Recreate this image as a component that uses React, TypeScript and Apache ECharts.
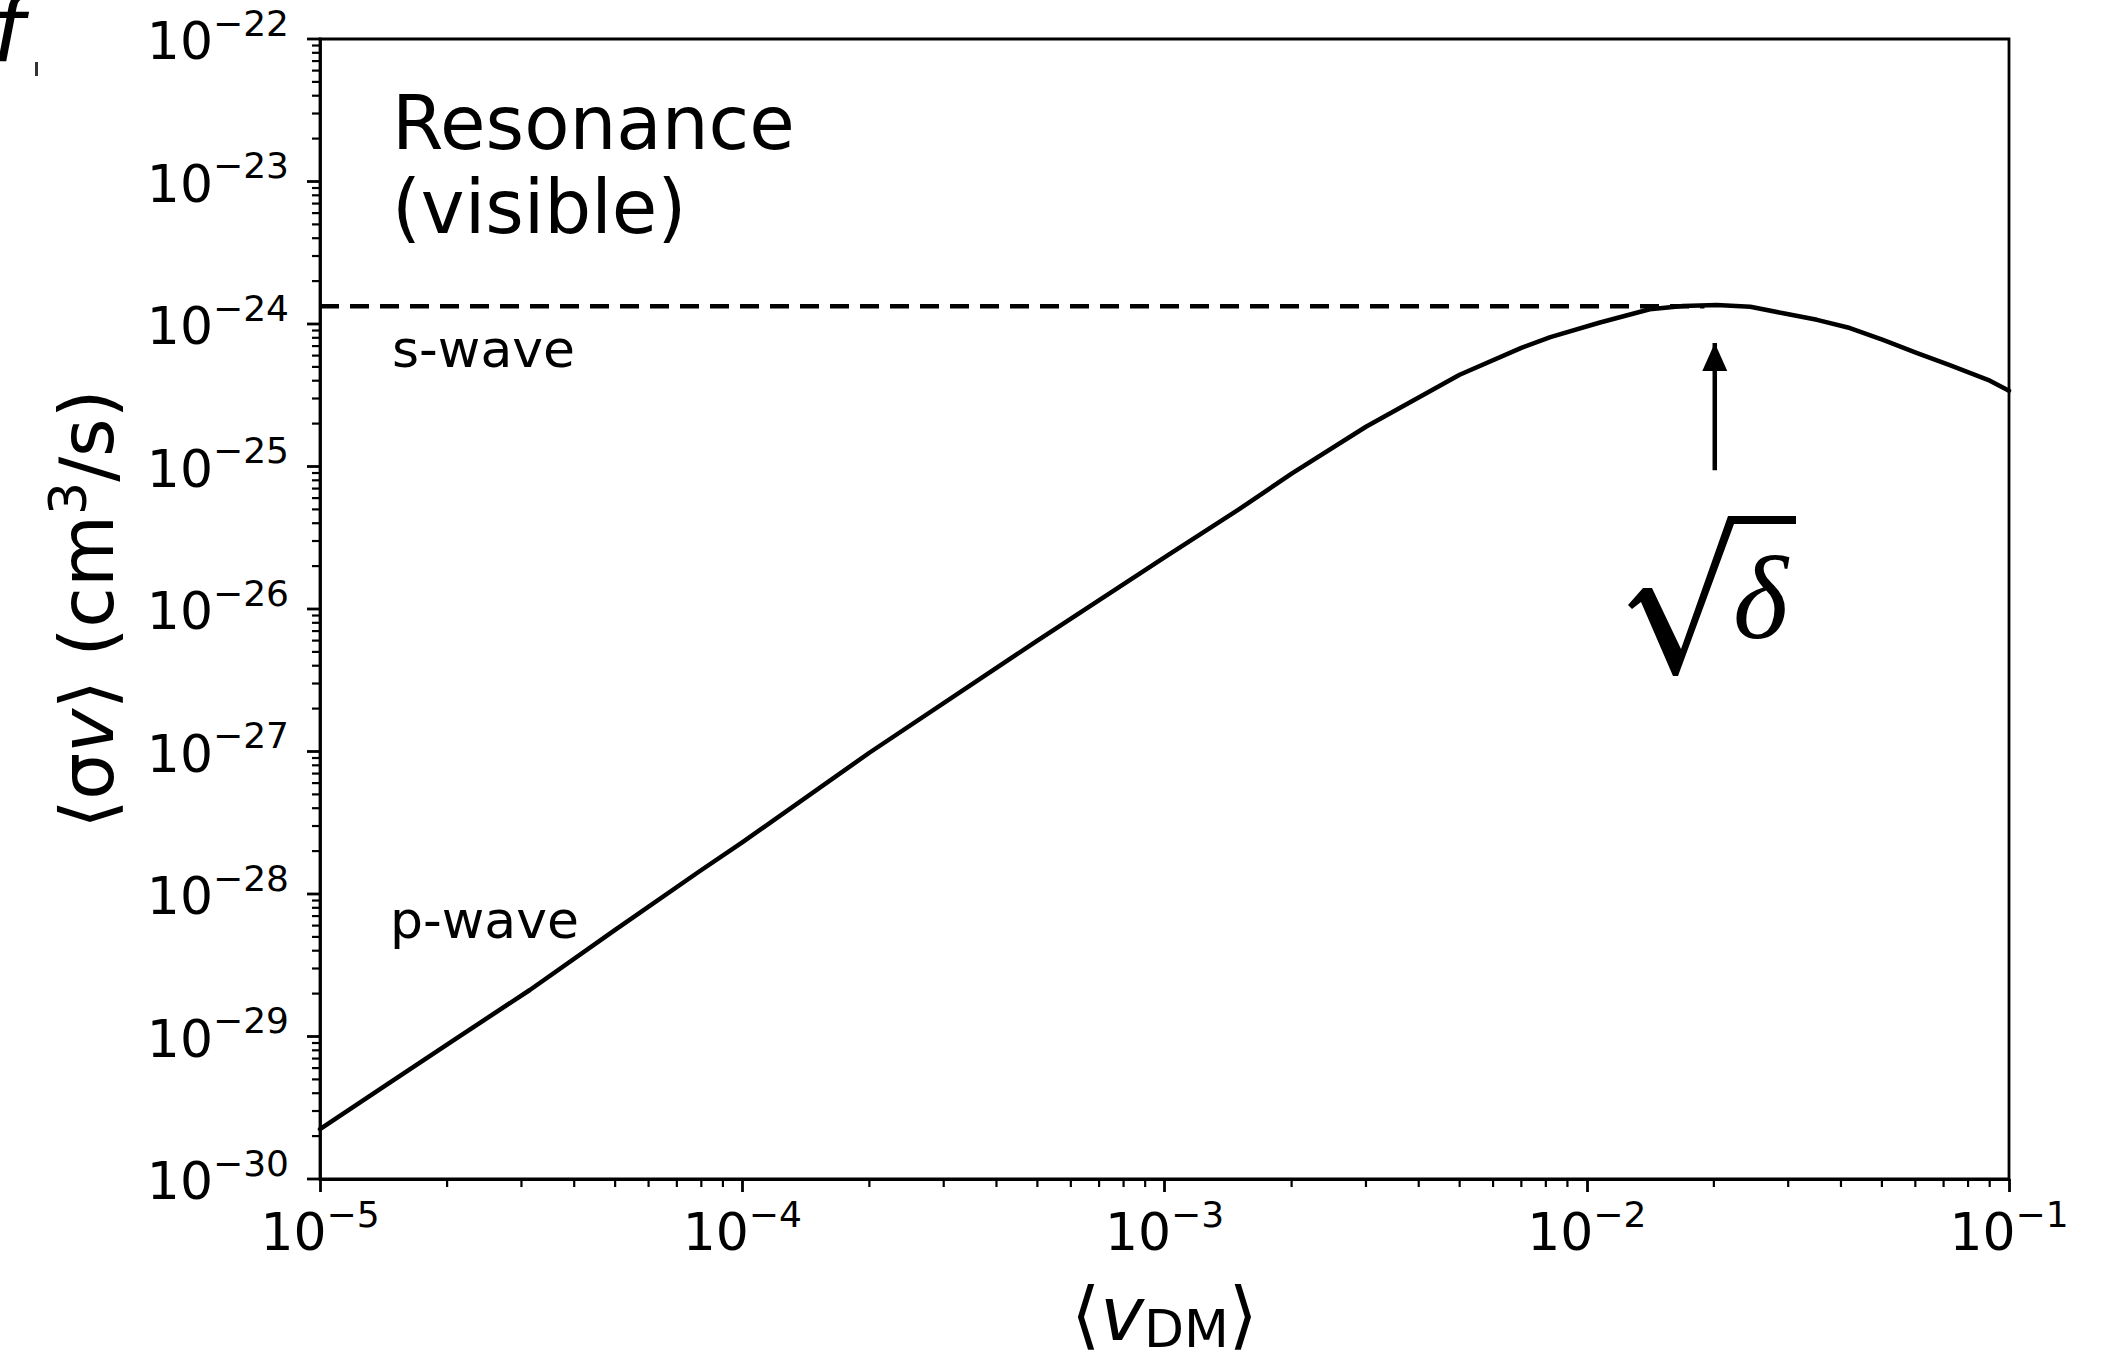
import React, { useEffect, useRef } from "react";
import * as echarts from "echarts";

// ---- Data ----
const vDM = [
  1e-5, 1.41e-5, 2.07e-5, 3.14e-5, 5e-5, 7.94e-5, 1e-4, 2e-4, 5e-4, 1e-3, 1.5e-3, 2e-3, 3e-3, 5e-3,
  7e-3, 8.2e-3, 1.07e-2, 1.41e-2, 1.69e-2, 2.03e-2, 2.44e-2, 2.92e-2, 3.51e-2, 4.2e-2, 5.03e-2,
  6.06e-2, 7.24e-2, 9.01e-2, 1e-1,
];
const sigmaV = [
  2.24e-30, 4.42e-30, 9.4e-30, 2.12e-29, 5.6e-29, 1.45e-28, 2.3e-28, 9.8e-28, 6.0e-27, 2.3e-26,
  5.0e-26, 8.9e-26, 1.9e-25, 4.4e-25, 6.8e-25, 8.1e-25, 1.02e-24, 1.27e-24, 1.34e-24, 1.36e-24,
  1.32e-24, 1.19e-24, 1.07e-24, 9.37e-25, 7.73e-25, 6.25e-25, 5.15e-25, 4.0e-25, 3.4e-25,
];
const sWaveX = [1e-5, 1.9e-2];
const sWaveY = [1.33e-24, 1.33e-24];
const arrowX = [2.01e-2, 2.01e-2];
const arrowY = [9.4e-26, 7.36e-25];

const xTickExponents = [-5, -4, -3, -2, -1];
const yTickExponents = [-30, -29, -28, -27, -26, -25, -24, -23, -22];
const minorMultipliers = [2, 3, 4, 5, 6, 7, 8, 9];

const X_MIN = 1e-5;
const X_MAX = 1e-1;
const Y_MIN = 1e-30;
const Y_MAX = 1e-22;

const FONT = "DejaVu Sans";
const INK = "#000";

const supText = (e: number) => "\u2212" + String(Math.abs(e));

const tickRich: any = {
  b: { fontSize: 52, fontFamily: FONT, color: INK, fill: INK, lineHeight: 56, verticalAlign: "bottom" },
  s: {
    fontSize: 36,
    fontFamily: FONT,
    color: INK,
    fill: INK,
    lineHeight: 40,
    verticalAlign: "bottom",
    padding: [0, 0, 26, 0],
  },
};

function makeLabel(exps: number[]) {
  return (v: number, idx: number) => {
    let e: number | undefined;
    if (typeof v === "number" && v > 0 && isFinite(v)) {
      const r = Math.round(Math.log10(v));
      e = exps.find((x) => x === r);
    }
    if (e === undefined) e = exps[idx];
    return e === undefined ? "" : `{b|10}{s|${supText(e)}}`;
  };
}

export default function App() {
  const ref = useRef<HTMLDivElement>(null);

  useEffect(() => {
    if (!ref.current) return;
    const chart = echarts.init(ref.current, undefined, { renderer: "svg" });

    const xMinor: number[] = [];
    xTickExponents.slice(0, -1).forEach((e) =>
      minorMultipliers.forEach((m) => xMinor.push(m * Math.pow(10, e)))
    );
    const yMinor: number[] = [];
    yTickExponents.slice(0, -1).forEach((e) =>
      minorMultipliers.forEach((m) => yMinor.push(m * Math.pow(10, e)))
    );

    const option: any = {
      animation: false,
      backgroundColor: "#fff",
      grid: {
        left: 320,
        top: 39,
        width: 1689,
        height: 1140,
        show: true,
        borderColor: INK,
        borderWidth: 2.8,
        backgroundColor: "transparent",
        containLabel: false,
        outerBoundsMode: "none",
      },
      xAxis: {
        type: "log",
        logBase: 10,
        min: X_MIN,
        max: X_MAX,
        name: "{a|\u27E8}{i|v}{sub|DM}{a|\u27E9}",
        nameLocation: "middle",
        nameGap: 102,
        nameMoveOverlap: false,
        nameTextStyle: {
          rich: {
            a: {
              fontSize: 74,
              fontFamily: FONT,
              color: INK,
              lineHeight: 80,
              verticalAlign: "bottom",
              padding: [0, 0, 10, 0],
            },
            i: {
              fontSize: 74,
              fontFamily: FONT,
              fontStyle: "italic",
              color: INK,
              lineHeight: 80,
              verticalAlign: "bottom",
              padding: [0, 0, 10, 0],
            },
            sub: {
              fontSize: 52,
              fontFamily: FONT,
              color: INK,
              lineHeight: 56,
              verticalAlign: "bottom",
              padding: [0, 0, 6, 0],
            },
          },
        },
        axisLine: { show: true, onZero: false, lineStyle: { color: INK, width: 2.8 } },
        axisTick: { show: true, length: 13, lineStyle: { color: INK, width: 2.8 } },
        minorTick: { show: false },
        splitLine: { show: false },
        axisLabel: {
          margin: 23,
          showMinLabel: true,
          showMaxLabel: true,
          hideOverlap: false,
          formatter: makeLabel(xTickExponents),
          rich: tickRich,
        },
      },
      yAxis: {
        type: "log",
        logBase: 10,
        min: Y_MIN,
        max: Y_MAX,
        name: "{a|\u27E8\u03C3}{i|v}{a|\u27E9 (cm}{sup|3}{a|/s)}",
        nameLocation: "middle",
        nameGap: 196,
        nameRotate: 90,
        nameMoveOverlap: false,
        nameTextStyle: {
          rich: {
            a: { fontSize: 74, fontFamily: FONT, color: INK, lineHeight: 80, verticalAlign: "bottom" },
            i: {
              fontSize: 74,
              fontFamily: FONT,
              fontStyle: "italic",
              color: INK,
              lineHeight: 80,
              verticalAlign: "bottom",
            },
            sup: {
              fontSize: 52,
              fontFamily: FONT,
              color: INK,
              lineHeight: 56,
              verticalAlign: "bottom",
              padding: [0, 0, 30, 0],
            },
          },
        },
        axisLine: { show: true, onZero: false, lineStyle: { color: INK, width: 2.8 } },
        axisTick: { show: false },
        minorTick: { show: false },
        splitLine: { show: false },
        axisLabel: { show: false },
      },
      series: [
        {
          type: "line",
          data: vDM.map((x, i) => [x, sigmaV[i]]),
          showSymbol: false,
          smooth: false,
          lineStyle: { color: INK, width: 4.5, join: "round", cap: "round" },
          z: 3,
        },
        {
          type: "line",
          data: sWaveX.map((x, i) => [x, sWaveY[i]]),
          showSymbol: false,
          lineStyle: { color: INK, width: 4.5, type: [19, 11] },
          z: 2,
        },
        {
          type: "line",
          showSymbol: true,
          data: [
            { value: [arrowX[0], arrowY[0]], symbol: "none" },
            {
              value: [arrowX[1], arrowY[1]],
              symbol: "triangle",
              symbolSize: [25, 28],
              symbolOffset: [0, 14],
              itemStyle: { color: INK },
            },
          ],
          lineStyle: { color: INK, width: 4.5 },
          z: 4,
        },
        {
          // x minor ticks
          type: "custom",
          coordinateSystem: "cartesian2d",
          clip: false,
          silent: true,
          data: xMinor.map((v) => [v, Y_MIN]),
          renderItem: (params: any, api: any) => {
            const p = api.coord([api.value(0), api.value(1)]);
            return {
              type: "line",
              shape: { x1: p[0], y1: p[1], x2: p[0], y2: p[1] + 8 },
              style: { stroke: INK, lineWidth: 2.2 },
            };
          },
        },
        {
          // y minor ticks
          type: "custom",
          coordinateSystem: "cartesian2d",
          clip: false,
          silent: true,
          data: yMinor.map((v) => [X_MIN, v]),
          renderItem: (params: any, api: any) => {
            const p = api.coord([api.value(0), api.value(1)]);
            return {
              type: "line",
              shape: { x1: p[0] - 8, y1: p[1], x2: p[0], y2: p[1] },
              style: { stroke: INK, lineWidth: 2.2 },
            };
          },
        },
        {
          // y major ticks and their labels
          type: "custom",
          coordinateSystem: "cartesian2d",
          clip: false,
          silent: true,
          data: yTickExponents.map((e) => [X_MIN, Math.pow(10, e)]),
          renderItem: (params: any, api: any) => {
            const p = api.coord([api.value(0), api.value(1)]);
            const e = yTickExponents[params.dataIndex];
            return {
              type: "group",
              children: [
                {
                  type: "line",
                  shape: { x1: p[0] - 13, y1: p[1], x2: p[0], y2: p[1] },
                  style: { stroke: INK, lineWidth: 2.8 },
                },
                {
                  type: "text",
                  x: p[0] - 31,
                  y: p[1],
                  style: {
                    text: `{b|10}{s|${supText(e)}}`,
                    rich: tickRich,
                    fill: INK,
                    fontFamily: FONT,
                    align: "right",
                    verticalAlign: "middle",
                  },
                },
              ],
            };
          },
        },
      ],
      graphic: [
        {
          type: "text",
          x: 392,
          y: 123,
          style: { text: "Resonance", fontSize: 74, fontFamily: FONT, fill: INK, verticalAlign: "middle" },
        },
        {
          type: "text",
          x: 392,
          y: 207,
          style: { text: "(visible)", fontSize: 74, fontFamily: FONT, fill: INK, verticalAlign: "middle" },
        },
        {
          type: "text",
          x: 392,
          y: 349,
          style: { text: "s-wave", fontSize: 52, fontFamily: FONT, fill: INK, verticalAlign: "middle" },
        },
        {
          type: "text",
          x: 390,
          y: 920,
          style: { text: "p-wave", fontSize: 52, fontFamily: FONT, fill: INK, verticalAlign: "middle" },
        },
        {
          type: "polygon",
          shape: {
            points: [
              [1628, 605],
              [1643, 588],
              [1652, 588],
              [1681, 649],
              [1728, 516],
              [1796, 516],
              [1796, 524],
              [1734, 524],
              [1678, 676],
              [1673, 676],
              [1641, 602],
              [1632, 609],
            ],
          },
          style: { fill: INK },
        },
        {
          type: "text",
          x: 1733,
          y: 598,
          style: {
            text: "\u03B4",
            fontSize: 118,
            fontFamily: "Liberation Serif",
            fontStyle: "italic",
            fill: INK,
            verticalAlign: "middle",
          },
        },
        {
          type: "text",
          x: -8,
          y: 29,
          style: {
            text: "f",
            fontSize: 90,
            fontFamily: FONT,
            fontStyle: "italic",
            fill: INK,
            verticalAlign: "middle",
          },
        },
        {
          type: "rect",
          shape: { x: 35, y: 62, width: 3, height: 14 },
          style: { fill: "#333" },
        },
      ],
    };

    chart.setOption(option);
    return () => chart.dispose();
  }, []);

  return (
    <div
      ref={ref}
      style={{ position: "fixed", left: 0, top: 0, width: 2115, height: 1360, background: "#fff" }}
    />
  );
}
